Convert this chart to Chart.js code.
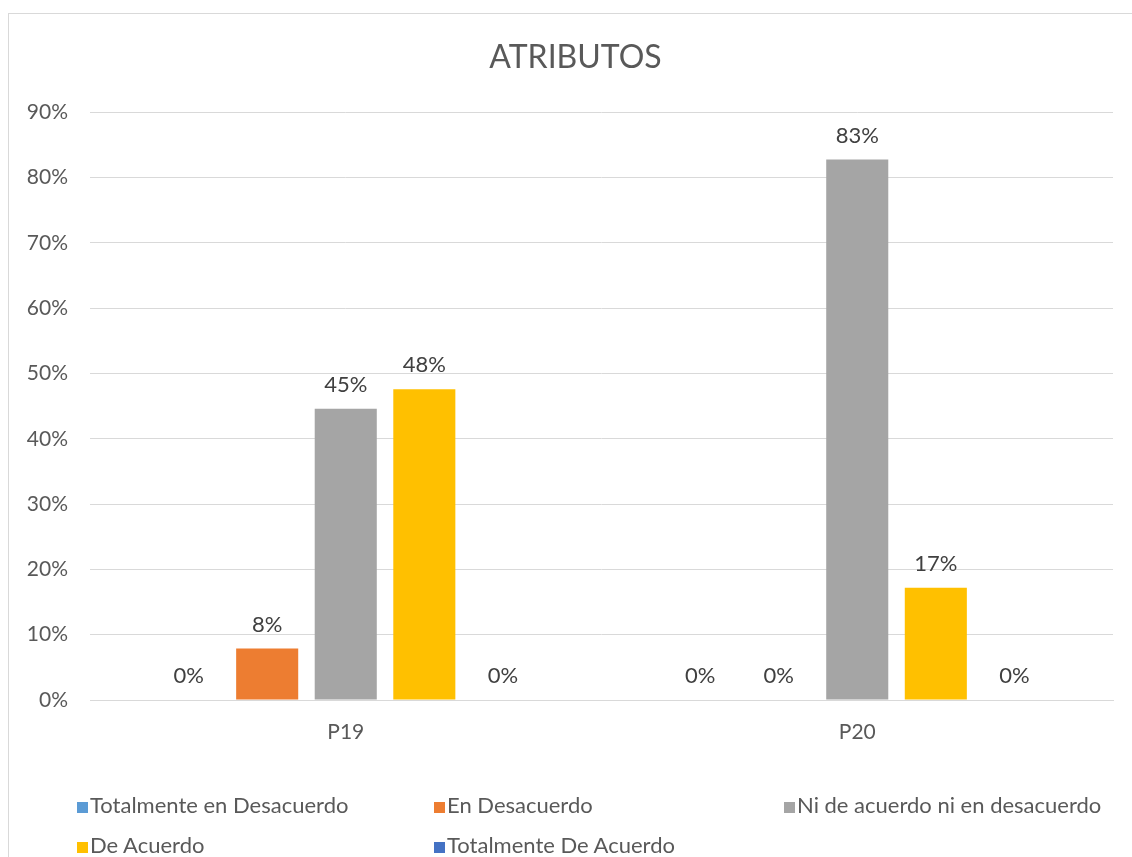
<!DOCTYPE html>
<html>
<head>
<meta charset="utf-8">
<script src="https://cdn.jsdelivr.net/npm/chart.js@4.4.0/dist/chart.umd.min.js"></script>
<style>
  html, body { margin: 0; padding: 0; background: #fff; overflow: hidden; }
  #wrap { position: relative; width: 1132px; height: 857px; }
  #frame { position: absolute; left: 8px; top: 13px; width: 1140px; height: 900px; border: 1px solid #d9d9d9; box-sizing: border-box; }
  #myChart { position: absolute; left: 0; top: 0; }
  #legend { position: absolute; left: 0; top: 0; font-family: Lato, "Noto Sans", sans-serif; font-size: 22px; color: #595959; }
  .item { position: absolute; white-space: nowrap; line-height: 24px; }
  .item span.box { display: inline-block; width: 11px; height: 11px; margin-right: 2px; vertical-align: 0px; }
</style>
</head>
<body>
<div id="wrap">
  <div id="frame"></div>
  <canvas id="myChart" width="1132" height="857"></canvas>
  <div id="legend"></div>
</div>
<script>
var categories = ["P19", "P20"];
var seriesNames = ["Totalmente en Desacuerdo", "En Desacuerdo", "Ni de acuerdo ni en desacuerdo", "De Acuerdo", "Totalmente De Acuerdo"];
var seriesColors = ["#5B9BD5", "#ED7D31", "#A5A5A5", "#FFC000", "#4472C4"];
var totDesacuerdo = [0, 0];
var enDesacuerdo = [0.079, 0];
var niNi = [0.446, 0.828];
var deAcuerdo = [0.476, 0.172];
var totAcuerdo = [0, 0];
var yTicks = [0, 0.1, 0.2, 0.3, 0.4, 0.5, 0.6, 0.7, 0.8, 0.9];

var seriesValues = [totDesacuerdo, enDesacuerdo, niNi, deAcuerdo, totAcuerdo];
var fontFam = "Lato, 'Noto Sans', sans-serif";

// etiquetas de datos encima de cada barra
var barLabels = {
    id: "barLabels",
    afterDatasetsDraw(chart) {
        const ctx = chart.ctx;
        ctx.save();
        ctx.font = "22px " + fontFam;
        ctx.fillStyle = "#404040";
        ctx.textAlign = "center";
        ctx.textBaseline = "middle";
        chart.data.datasets.forEach((ds, i) => {
            const meta = chart.getDatasetMeta(i);
            meta.data.forEach((bar, j) => {
                const txt = Math.round(ds.data[j] * 100) + "%";
                ctx.fillText(txt, bar.x, bar.y - 24);
            });
        });
        ctx.restore();
    },
};

var ctx = document.getElementById("myChart").getContext("2d");
var chart = new Chart(ctx, {
    type: "bar",
    data: {
        labels: categories,
        datasets: seriesNames.map((name, i) => ({
            label: name,
            data: seriesValues[i],
            backgroundColor: seriesColors[i],
            categoryPercentage: 0.768,
            barPercentage: 0.79,
        })),
    },
    options: {
        responsive: false,
        animation: false,
        layout: { padding: { left: 19, right: 0, top: 0, bottom: 107 } },
        plugins: {
            legend: { display: false },
            tooltip: { enabled: false },
            title: {
                display: true,
                text: "ATRIBUTOS",
                color: "#595959",
                font: { family: fontFam, size: 32, weight: "normal" },
                padding: { top: 38, bottom: 36 },
            },
        },
        scales: {
            x: {
                grid: { display: false, drawTicks: false },
                border: { display: true, color: "#d9d9d9" },
                ticks: { color: "#595959", font: { family: fontFam, size: 21 }, padding: 20 },
                afterFit(scale) { scale.height = 50; },
            },
            y: {
                min: 0,
                max: 0.9,
                afterBuildTicks(scale) { scale.ticks = yTicks.map(v => ({ value: v })); },
                grid: { color: "#d9d9d9", drawTicks: false },
                border: { display: false },
                ticks: {
                    color: "#595959",
                    font: { family: fontFam, size: 21 },
                    padding: 22,
                    callback: v => Math.round(v * 100) + "%",
                },
                afterFit(scale) { scale.width = 71; },
            },
            // eje vacío a la derecha solo para dejar margen
            yRight: {
                position: "right",
                grid: { display: false, drawTicks: false },
                border: { display: false },
                ticks: { display: false },
                afterFit(scale) { scale.width = 19; },
            },
        },
    },
    plugins: [barLabels],
});

// leyenda en cuadrícula como en el original
var legendPos = [[77, 793], [434, 793], [784, 793], [77, 833], [434, 833]];
var legendDiv = document.getElementById("legend");
seriesNames.forEach((name, i) => {
    const el = document.createElement("div");
    el.className = "item";
    el.style.left = legendPos[i][0] + "px";
    el.style.top = legendPos[i][1] + "px";
    el.innerHTML = "<span class='box' style='background:" + seriesColors[i] + "'></span>" + name;
    legendDiv.appendChild(el);
});
</script>
</body>
</html>
